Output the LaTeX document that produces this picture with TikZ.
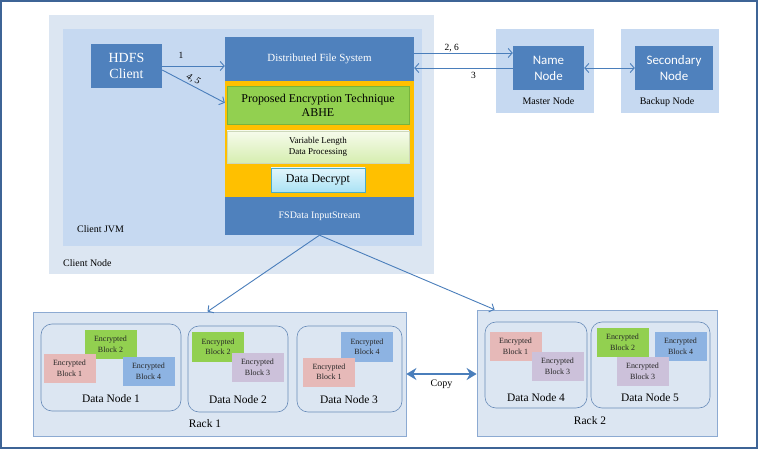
\documentclass[tikz,border=0pt]{standalone}
\usepackage{fontspec}
\setmainfont{Liberation Serif}
\newfontfamily\calibri{Carlito}
\usetikzlibrary{arrows.meta,positioning,calc}
\definecolor{hdblue}{RGB}{79,129,189}
\definecolor{hdline}{RGB}{74,126,187}
\definecolor{hdframe}{RGB}{62,100,150}
\definecolor{nodefill}{RGB}{220,230,242}
\definecolor{jvmfill}{RGB}{198,217,241}
\definecolor{hdorange}{RGB}{255,192,0}
\definecolor{hdgreen}{RGB}{146,208,80}
\definecolor{hdgreendk}{RGB}{120,180,60}
\definecolor{varlight}{RGB}{246,251,236}
\definecolor{vardark}{RGB}{214,238,176}
\definecolor{decrlight}{RGB}{226,246,252}
\definecolor{decrdark}{RGB}{170,226,244}
\definecolor{decrline}{RGB}{75,172,198}
\definecolor{blkpink}{RGB}{230,185,184}
\definecolor{blkpurple}{RGB}{204,193,218}
\definecolor{blkblue}{RGB}{141,179,226}
\definecolor{rackline}{RGB}{140,170,210}
\definecolor{dnline}{RGB}{105,140,185}
\tikzset{
  box/.style n args={2}{minimum width=#1, minimum height=#2, inner sep=0pt},
  frame/.style={draw=hdframe, line width=1.3bp, fill=white},
  zone/.style={fill=nodefill},
  jvm/.style={fill=jvmfill},
  bluebox/.style={fill=hdblue, text=white, align=center},
  lbl/.style={font=\rmfamily\fontsize{10}{12}\selectfont, inner sep=0pt},
  dlbl/.style={font=\rmfamily\fontsize{11.5}{13}\selectfont, inner sep=0pt},
  rack/.style={fill=nodefill, draw=rackline, line width=0.8bp},
  dnode/.style={fill=nodefill, draw=dnline, line width=0.6bp, rounded corners=11bp},
  encbox/.style={box={52bp}{29bp}, align=center, font=\rmfamily\fontsize{8}{10.5}\selectfont, text=black!85},
  flow/.style={-{Straight Barb[length=4bp,width=9bp]}, line width=0.9bp, draw=hdline},
  biflow/.style={{Straight Barb[length=4bp,width=9bp]}-{Straight Barb[length=4bp,width=9bp]}, line width=0.9bp, draw=hdline},
  copyflow/.style={{Stealth[length=10bp,width=12bp]}-{Stealth[length=10bp,width=12bp]}, line width=2.8bp, draw=hdline},
  num/.style={font=\rmfamily\fontsize{9.5}{11}\selectfont, inner sep=1bp},
}
\newcommand{\encblock}[4]{%
  \node[encbox, fill=#1] (#2) at (#3) {Encrypted\\Block #4};}

\begin{document}
\begin{tikzpicture}[x=1bp,y=-1bp, font=\rmfamily]
  \useasboundingbox (0,0) rectangle (758,450);
  \node[frame, box={756bp}{447bp}] (page) at (379,224.5) {};

  \node[zone, box={385bp}{259bp}] (cnode) at (241.5,144.5) {};
  \node[jvm, box={359bp}{217bp}] (jvm) at (242.5,137.5) {};
  \node[lbl, anchor=west] (jvmlbl) at (77,229) {Client JVM};
  \node[lbl, anchor=west] (cnodelbl) at (63,263) {Client Node};

  \node[bluebox, box={71bp}{44bp}, font=\rmfamily\fontsize{14}{15.5}\selectfont] (hdfs) at (126.5,66) {HDFS\\Client};
  \node[bluebox, box={189bp}{44bp}, font=\rmfamily\fontsize{11}{12}\selectfont] (dfs) at (319.5,59) {Distributed File System};
  \node[fill=hdorange, box={189bp}{116bp}] (core) at (319.5,139) {};
  \node[bluebox, box={189bp}{38bp}, font=\rmfamily\fontsize{10}{12}\selectfont] (fsin) at (319.5,216) {FSData InputStream};
  \node[fill=hdgreen, draw=hdgreendk, line width=0.6bp, box={182bp}{38bp}, align=center,
        font=\rmfamily\fontsize{12}{14}\selectfont] (abhe) at (318,105) {Proposed Encryption Technique\\ABHE};
  \node[top color=varlight, bottom color=vardark, draw=vardark!80!black!60, line width=0.6bp,
        box={182bp}{32bp}, align=center, font=\rmfamily\fontsize{9}{11.5}\selectfont] (varlen) at (318,147)
        {Variable Length\\Data Processing};
  \node[top color=decrlight, bottom color=decrdark, draw=decrline, line width=0.7bp,
        box={94bp}{24bp}, font=\rmfamily\fontsize{12}{13}\selectfont] (decr) at (318,180) {Data Decrypt};

  \node[jvm, box={98bp}{84bp}] (master) at (545,71) {};
  \node[bluebox, box={71bp}{44bp}, font=\calibri\fontsize{13}{16}\selectfont] (name) at (548.5,68) {Name\\Node};
  \node[lbl, below=7bp of name] (masterlbl) {Master Node};
  \node[jvm, box={98bp}{84bp}] (backup) at (670,71) {};
  \node[bluebox, box={78bp}{44bp}, font=\calibri\fontsize{13}{16}\selectfont] (sec) at (674,68) {Secondary\\Node};
  \node[lbl] (backuplbl) at (667,102) {Backup Node};

  \draw[flow] (hdfs.east) -- node[num, above=6bp, pos=0.3] {1} (hdfs.east -| dfs.west);
  \draw[flow] ($(hdfs.east)+(0,4)$) -- node[num, sloped, above=1bp, pos=0.45, font=\itshape\rmfamily\fontsize{9.5}{11}\selectfont] {4, 5}
        ($(core.north west)+(0,22)$);
  \coordinate (dfsout) at ($(dfs.east)+(0,-6)$);
  \draw[flow] (dfsout) -- node[num, above, pos=0.38] {2, 6} (dfsout -| name.west);
  \draw[flow] (name.west) -- node[num, below=3bp, pos=0.4] {3} (name.west -| dfs.east);
  \draw[biflow] (name.east) -- (sec.west);

  \node[rack, box={373bp}{124bp}] (rack1) at (219.5,374) {};
  \node[rack, box={240bp}{126bp}] (rack2) at (597,373) {};
  \node[dnode, box={140bp}{87bp}] (dn1) at (111,367.5) {};
  \node[dnode, box={100bp}{86bp}] (dn2) at (238,369) {};
  \node[dnode, box={105bp}{86bp}] (dn3) at (349.5,369) {};
  \node[dnode, box={102bp}{86bp}] (dn4) at (536,365) {};
  \node[dnode, box={119bp}{86bp}] (dn5) at (650.5,365) {};

  \encblock{hdgreen}{dna2}{110.5,344.5}{2}
  \encblock{blkpink}{dna1}{69.5,368.5}{1}
  \encblock{blkblue}{dna4}{148.5,371.5}{4}
  \encblock{hdgreen}{dnb2}{218,347}{2}
  \encblock{blkpurple}{dnb3}{257.5,367.5}{3}
  \encblock{blkblue}{dnc4}{367,347}{4}
  \encblock{blkpink}{dnc1}{329,372}{1}
  \encblock{blkpink}{dnd1}{515.5,346.5}{1}
  \encblock{blkpurple}{dnd3}{557.5,366.5}{3}
  \encblock{hdgreen}{dne2}{622.5,342.5}{2}
  \encblock{blkblue}{dne4}{680.5,346.5}{4}
  \encblock{blkpurple}{dne3}{642.5,371.5}{3}

  \node[dlbl] (dn1lbl) at (111,399) {Data Node 1};
  \node[dlbl] (dn2lbl) at (238,400) {Data Node 2};
  \node[dlbl] (dn3lbl) at (349,400) {Data Node 3};
  \node[dlbl] (dn4lbl) at (536,398) {Data Node 4};
  \node[dlbl] (dn5lbl) at (650,398) {Data Node 5};
  \node[dlbl] (rack1lbl) at (205,424) {Rack 1};
  \node[dlbl] (rack2lbl) at (590,421) {Rack 2};

  \draw[flow] (fsin.south) -- ($(rack1.north)+(-12,0)$);
  \draw[flow] (fsin.south) -- ($(rack2.north west)+(18,0)$);
  \draw[copyflow] (rack1.east) -- node[lbl, below=5bp] {Copy} (rack1.east -| rack2.west);
\end{tikzpicture}
\end{document}
